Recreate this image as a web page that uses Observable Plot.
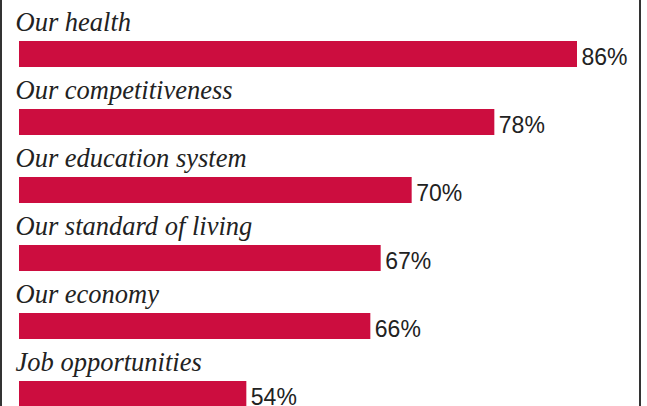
<!DOCTYPE html>
<html>
<head>
<meta charset="utf-8">
<script src="https://cdn.jsdelivr.net/npm/d3@7"></script>
<script src="https://cdn.jsdelivr.net/npm/@observablehq/plot@0.6"></script>
<style>
  html, body { margin: 0; padding: 0; background: #fff; }
  #wrap { position: relative; width: 647px; height: 406px; overflow: hidden; }
  #wrap .edge { position: absolute; top: 0; bottom: 0; width: 2.3px; background: #333; }
  #wrap .edge.l { left: 0; }
  #wrap .edge.r { left: 638.7px; }
</style>
</head>
<body>
<div id="wrap"><div class="edge l"></div><div class="edge r"></div></div>
<script>
const categories = [
  "Our health",
  "Our competitiveness",
  "Our education system",
  "Our standard of living",
  "Our economy",
  "Job opportunities"
];
const values = [86, 78, 70, 67, 66, 54];
const valueLabels = ["86%", "78%", "70%", "67%", "66%", "54%"];

const data = categories.map((c, i) => ({cat: c, value: values[i], label: valueLabels[i]}));
const xMin = 32, xMax = 92;

const step = 68.2, band = 25.6;
const pad = 1 - band / step;
const r0 = 40 - pad * step;
const r1 = r0 + step * (categories.length + pad);

const chart = Plot.plot({
  width: 647,
  height: 406,
  marginLeft: 19,
  marginRight: 8,
  marginTop: 0,
  marginBottom: 0,
  style: {background: "transparent", overflow: "visible"},
  x: {domain: [xMin, xMax], axis: null},
  y: {domain: categories, range: [r0, r1], padding: pad, axis: null},
  marks: [
    Plot.barX(data, {x1: () => xMin, x2: "value", y: "cat", fill: "#cc0d3f"}),
    Plot.text(data, {
      y: "cat", text: "cat", frameAnchor: "left", textAnchor: "start",
      lineAnchor: "bottom", dx: -4, dy: -(band / 2 + 10.5),
      fontFamily: "Liberation Serif", fontStyle: "italic", fontSize: 26.5, fill: "#222"
    }),
    Plot.text(data, {
      x: "value", y: "cat", text: "label", textAnchor: "start",
      lineAnchor: "bottom", dx: 4, dy: 10.5,
      fontFamily: "Liberation Sans", fontSize: 23, fill: "#222"
    })
  ]
});
document.getElementById("wrap").prepend(chart);
</script>
</body>
</html>
